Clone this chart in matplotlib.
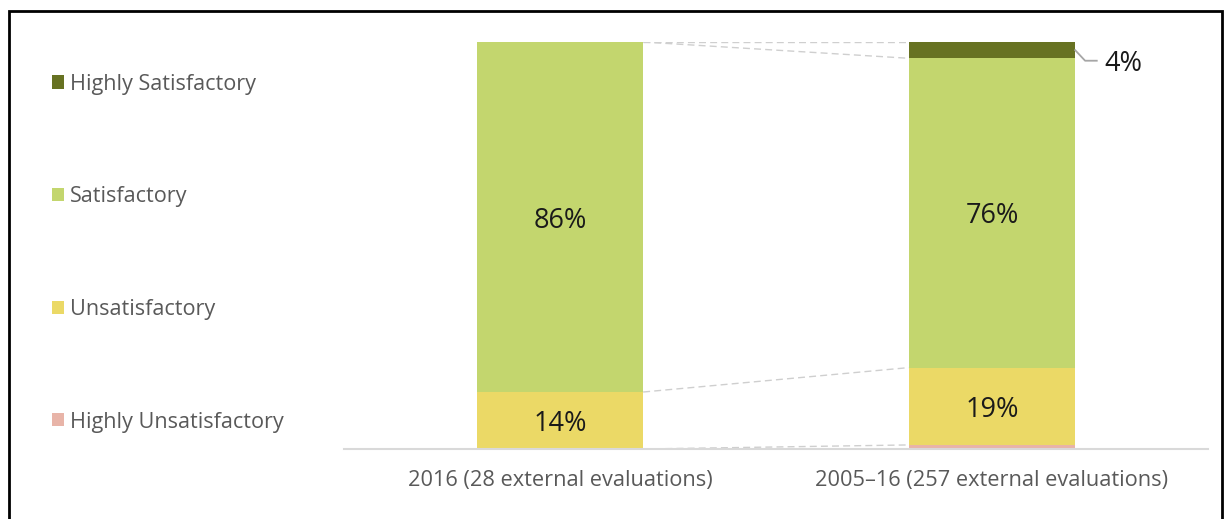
import matplotlib
matplotlib.use("Agg")
import matplotlib.pyplot as plt
from matplotlib.patches import Rectangle, Patch

plt.rcParams['font.family'] = ['Open Sans', 'DejaVu Sans']

# Ratings of external evaluations, per period (percent of evaluations)
categories = ["2016 (28 external evaluations)", "2005\u201316 (257 external evaluations)"]
series = ["Highly Unsatisfactory", "Unsatisfactory", "Satisfactory", "Highly Satisfactory"]
highly_unsat = [0, 1]
unsat = [14, 19]
sat = [86, 76]
highly_sat = [0, 4]

colors = {
    "Highly Unsatisfactory": "#E8B4A8",
    "Unsatisfactory": "#EBD966",
    "Satisfactory": "#C3D66E",
    "Highly Satisfactory": "#677222",
}

values = {
    "Highly Unsatisfactory": highly_unsat,
    "Unsatisfactory": unsat,
    "Satisfactory": sat,
    "Highly Satisfactory": highly_sat,
}

fig = plt.figure(figsize=(12.3, 5.19), dpi=100)
ax = fig.add_axes([344 / 1230, 70 / 519, 864 / 1230, 407 / 519])

x = list(range(len(categories)))
width = 0.385
bottoms = [0.0] * len(categories)
tops = {}
for name in series:
    vals = values[name]
    ax.bar(x, vals, width=width, bottom=bottoms, color=colors[name],
           edgecolor="none", zorder=2)
    bottoms = [b + v for b, v in zip(bottoms, vals)]
    tops[name] = list(bottoms)

# Dashed connectors between the cumulative tops of each series
for name in series:
    t = tops[name]
    ax.plot([x[0] + width / 2, x[1] - width / 2], [t[0], t[1]],
            color="#cfcfcf", lw=1.0, ls=(0, (5, 3)), zorder=1)

# Value labels inside the segments
label_color = "#1a1a1a"
label_size = 19.5
for i in x:
    b = 0.0
    for name in series:
        v = values[name][i]
        if v >= 10:
            ax.text(i, b + v / 2, f"{v}%", ha="center", va="center_baseline",
                    fontsize=label_size, color=label_color, zorder=3)
        b += v

# Small top segment labelled outside the bar with a leader line
v = highly_sat[1]
top = tops["Highly Satisfactory"][1]
mid = top - v / 2
edge = x[1] + width / 2
ax.plot([edge, edge + 0.023, edge + 0.05], [mid, top - v - 0.6, top - v - 0.6],
        color="#a6a6a6", lw=1.3, zorder=3, clip_on=False)
ax.text(edge + 0.068, top - v - 0.6, f"{v}%", ha="left", va="center_baseline",
        fontsize=label_size, color=label_color, clip_on=False)

ax.set_xlim(-0.5, 1.5)
ax.set_ylim(0, 100)
ax.set_xticks(x)
ax.set_xticklabels(categories, fontsize=15.7, color="#595959")
ax.tick_params(axis="x", length=0, pad=15)
ax.set_yticks([])
for s in ["top", "right", "left"]:
    ax.spines[s].set_visible(False)
ax.spines["bottom"].set_color("#d9d9d9")
ax.spines["bottom"].set_linewidth(1.5)
ax.spines["bottom"].set_zorder(4)

# Legend, top entry first
handles = [Patch(facecolor=colors[n], edgecolor="none") for n in reversed(series)]
leg = fig.legend(handles, list(reversed(series)), loc="upper left",
                 bbox_to_anchor=(43 / 1230, 1 - 65 / 519), frameon=False,
                 fontsize=15.6, labelcolor="#595959", handlelength=0.55,
                 handleheight=0.55, handletextpad=0.3, labelspacing=4.23,
                 borderaxespad=0)

# Outer frame
fig.patches.append(Rectangle((9 / 1230, -0.1), 1213 / 1230, 1.1 - 11 / 519,
                             transform=fig.transFigure, fill=False,
                             edgecolor="black", lw=2, clip_on=False))

fig.savefig("out.png", dpi=100)
